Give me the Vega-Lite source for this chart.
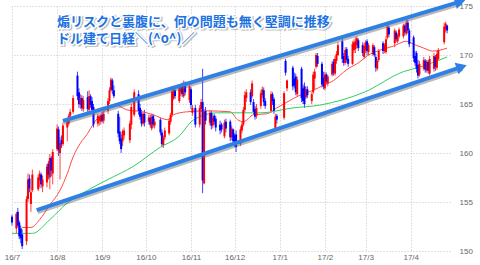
{
  "$schema": "https://vega.github.io/schema/vega-lite/v6.json",
  "width": 438,
  "height": 245,
  "autosize": {"type": "none"},
  "padding": {"left": 12, "top": 6, "right": 30, "bottom": 14},
  "background": "white",
  "config": {
    "view": {"stroke": null},
    "font": "Liberation Sans",
    "axis": {"grid": true, "gridColor": "#c4c4c4", "gridDash": [1, 2], "gridWidth": 1, "domain": false, "ticks": false, "labelColor": "#666666", "labelFontSize": 8, "labelFont": "Liberation Sans"}
  },
  "datasets": {
    "candles": [
      {"d":"2016-07-01","o":153.5,"h":153.7,"l":152.6,"c":152.9},
      {"d":"2016-07-04","o":152.3,"h":154.0,"l":151.8,"c":153.8},
      {"d":"2016-07-05","o":154.0,"h":154.4,"l":152.4,"c":152.6},
      {"d":"2016-07-06","o":152.9,"h":153.1,"l":151.2,"c":151.5},
      {"d":"2016-07-07","o":152.3,"h":152.6,"l":150.8,"c":151.3},
      {"d":"2016-07-08","o":151.7,"h":152.2,"l":150.2,"c":150.5},
      {"d":"2016-07-11","o":151.0,"h":155.6,"l":150.6,"c":155.3},
      {"d":"2016-07-12","o":155.3,"h":157.9,"l":155.0,"c":157.3},
      {"d":"2016-07-13","o":157.4,"h":157.8,"l":156.0,"c":156.4},
      {"d":"2016-07-14","o":154.8,"h":156.4,"l":154.0,"c":156.0},
      {"d":"2016-07-15","o":156.2,"h":158.3,"l":156.0,"c":157.8},
      {"d":"2016-07-19","o":156.3,"h":157.8,"l":156.1,"c":157.5},
      {"d":"2016-07-20","o":157.2,"h":158.2,"l":156.5,"c":157.9},
      {"d":"2016-07-21","o":157.8,"h":158.0,"l":156.4,"c":156.8},
      {"d":"2016-07-22","o":156.6,"h":157.7,"l":156.0,"c":157.3},
      {"d":"2016-07-25","o":157.0,"h":158.9,"l":156.5,"c":158.6},
      {"d":"2016-07-26","o":158.9,"h":159.2,"l":157.3,"c":157.8},
      {"d":"2016-07-27","o":157.5,"h":159.9,"l":156.3,"c":159.5},
      {"d":"2016-07-28","o":159.5,"h":159.7,"l":157.6,"c":158.2},
      {"d":"2016-07-29","o":157.9,"h":160.4,"l":156.8,"c":160.1},
      {"d":"2016-08-01","o":160.4,"h":162.9,"l":160.2,"c":162.5},
      {"d":"2016-08-02","o":162.4,"h":162.7,"l":159.7,"c":160.3},
      {"d":"2016-08-03","o":160.0,"h":161.6,"l":157.3,"c":161.0},
      {"d":"2016-08-04","o":161.3,"h":161.8,"l":160.5,"c":160.9},
      {"d":"2016-08-05","o":160.9,"h":163.1,"l":160.7,"c":162.8},
      {"d":"2016-08-08","o":162.6,"h":163.4,"l":161.2,"c":163.2},
      {"d":"2016-08-09","o":163.0,"h":164.0,"l":162.8,"c":163.8},
      {"d":"2016-08-10","o":163.8,"h":164.5,"l":163.4,"c":164.2},
      {"d":"2016-08-12","o":164.2,"h":165.9,"l":164.0,"c":165.6},
      {"d":"2016-08-15","o":167.9,"h":168.3,"l":165.4,"c":165.8},
      {"d":"2016-08-16","o":166.2,"h":166.6,"l":164.6,"c":165.0},
      {"d":"2016-08-17","o":164.9,"h":166.0,"l":164.5,"c":165.6},
      {"d":"2016-08-18","o":165.6,"h":165.9,"l":164.3,"c":164.6},
      {"d":"2016-08-19","o":164.5,"h":165.8,"l":164.2,"c":165.4},
      {"d":"2016-08-22","o":165.7,"h":166.3,"l":164.2,"c":164.5},
      {"d":"2016-08-23","o":164.4,"h":166.4,"l":164.2,"c":165.8},
      {"d":"2016-08-24","o":165.8,"h":166.0,"l":164.6,"c":164.9},
      {"d":"2016-08-25","o":165.3,"h":165.7,"l":164.0,"c":164.4},
      {"d":"2016-08-26","o":164.7,"h":165.0,"l":162.6,"c":162.9},
      {"d":"2016-08-29","o":163.0,"h":164.0,"l":162.7,"c":163.8},
      {"d":"2016-08-30","o":163.3,"h":163.9,"l":162.8,"c":163.7},
      {"d":"2016-08-31","o":163.2,"h":164.0,"l":162.9,"c":163.8},
      {"d":"2016-09-01","o":163.9,"h":164.2,"l":163.1,"c":163.3},
      {"d":"2016-09-02","o":163.3,"h":164.3,"l":163.0,"c":164.0},
      {"d":"2016-09-05","o":164.3,"h":165.6,"l":164.0,"c":165.3},
      {"d":"2016-09-06","o":165.3,"h":166.7,"l":165.0,"c":166.4},
      {"d":"2016-09-07","o":166.4,"h":167.7,"l":166.2,"c":167.5},
      {"d":"2016-09-08","o":167.4,"h":167.6,"l":166.0,"c":166.4},
      {"d":"2016-09-09","o":166.4,"h":166.9,"l":165.6,"c":165.8},
      {"d":"2016-09-12","o":164.0,"h":164.3,"l":161.6,"c":162.0},
      {"d":"2016-09-13","o":162.2,"h":163.7,"l":160.9,"c":161.2},
      {"d":"2016-09-14","o":161.5,"h":161.9,"l":160.0,"c":160.4},
      {"d":"2016-09-15","o":161.2,"h":162.4,"l":160.7,"c":162.2},
      {"d":"2016-09-16","o":161.8,"h":162.6,"l":161.4,"c":162.3},
      {"d":"2016-09-20","o":161.3,"h":163.3,"l":161.0,"c":163.0},
      {"d":"2016-09-21","o":162.9,"h":165.0,"l":162.4,"c":164.7},
      {"d":"2016-09-23","o":163.9,"h":166.5,"l":163.7,"c":166.2},
      {"d":"2016-09-26","o":166.0,"h":166.4,"l":163.9,"c":164.3},
      {"d":"2016-09-27","o":164.6,"h":165.0,"l":163.4,"c":163.7},
      {"d":"2016-09-28","o":164.0,"h":164.4,"l":162.7,"c":163.0},
      {"d":"2016-09-29","o":163.0,"h":164.2,"l":162.8,"c":164.0},
      {"d":"2016-09-30","o":164.0,"h":164.4,"l":162.7,"c":163.1},
      {"d":"2016-10-03","o":163.2,"h":163.9,"l":162.9,"c":163.6},
      {"d":"2016-10-04","o":163.6,"h":163.9,"l":162.6,"c":162.9},
      {"d":"2016-10-05","o":162.5,"h":164.0,"l":162.3,"c":163.7},
      {"d":"2016-10-06","o":163.8,"h":164.0,"l":162.6,"c":162.9},
      {"d":"2016-10-07","o":162.8,"h":163.5,"l":162.5,"c":163.2},
      {"d":"2016-10-11","o":163.4,"h":163.6,"l":161.8,"c":162.1},
      {"d":"2016-10-12","o":162.1,"h":162.4,"l":160.6,"c":160.9},
      {"d":"2016-10-13","o":160.8,"h":161.8,"l":160.5,"c":161.6},
      {"d":"2016-10-14","o":161.6,"h":162.6,"l":161.3,"c":162.3},
      {"d":"2016-10-17","o":162.0,"h":163.5,"l":161.8,"c":163.3},
      {"d":"2016-10-18","o":163.2,"h":164.1,"l":162.9,"c":163.9},
      {"d":"2016-10-19","o":163.9,"h":166.8,"l":163.7,"c":166.3},
      {"d":"2016-10-20","o":165.6,"h":166.7,"l":165.4,"c":166.4},
      {"d":"2016-10-21","o":166.4,"h":166.6,"l":165.5,"c":165.8},
      {"d":"2016-10-24","o":165.3,"h":167.0,"l":165.1,"c":166.7},
      {"d":"2016-10-25","o":166.2,"h":167.0,"l":165.8,"c":166.8},
      {"d":"2016-10-26","o":166.8,"h":167.2,"l":165.7,"c":166.0},
      {"d":"2016-10-27","o":165.8,"h":167.4,"l":165.6,"c":167.1},
      {"d":"2016-10-28","o":167.0,"h":167.3,"l":165.9,"c":166.2},
      {"d":"2016-10-31","o":165.4,"h":167.1,"l":165.1,"c":166.8},
      {"d":"2016-11-01","o":166.5,"h":166.7,"l":164.5,"c":164.9},
      {"d":"2016-11-02","o":164.1,"h":164.9,"l":163.8,"c":164.6},
      {"d":"2016-11-04","o":164.6,"h":164.9,"l":162.6,"c":162.9},
      {"d":"2016-11-07","o":162.9,"h":164.9,"l":162.6,"c":164.6},
      {"d":"2016-11-08","o":164.5,"h":165.5,"l":164.2,"c":165.2},
      {"d":"2016-11-09","o":165.2,"h":168.6,"l":155.9,"c":157.2},
      {"d":"2016-11-10","o":156.9,"h":164.5,"l":156.8,"c":164.2},
      {"d":"2016-11-11","o":164.3,"h":164.7,"l":162.9,"c":163.3},
      {"d":"2016-11-14","o":163.1,"h":164.4,"l":162.8,"c":164.1},
      {"d":"2016-11-15","o":164.1,"h":164.3,"l":162.4,"c":162.8},
      {"d":"2016-11-16","o":162.8,"h":163.9,"l":162.5,"c":163.6},
      {"d":"2016-11-17","o":163.8,"h":164.0,"l":162.9,"c":163.2},
      {"d":"2016-11-18","o":163.5,"h":163.8,"l":162.2,"c":162.6},
      {"d":"2016-11-21","o":162.9,"h":163.3,"l":161.9,"c":162.3},
      {"d":"2016-11-22","o":162.9,"h":163.1,"l":162.1,"c":162.4},
      {"d":"2016-11-24","o":161.7,"h":163.4,"l":161.5,"c":163.1},
      {"d":"2016-11-25","o":163.2,"h":163.5,"l":162.1,"c":162.5},
      {"d":"2016-11-28","o":163.2,"h":163.4,"l":161.2,"c":161.6},
      {"d":"2016-11-29","o":161.6,"h":162.8,"l":161.3,"c":162.5},
      {"d":"2016-11-30","o":162.4,"h":162.5,"l":160.9,"c":161.2},
      {"d":"2016-12-01","o":161.8,"h":162.0,"l":160.6,"c":160.9},
      {"d":"2016-12-02","o":161.9,"h":162.3,"l":160.1,"c":160.6},
      {"d":"2016-12-05","o":160.9,"h":162.7,"l":160.7,"c":162.4},
      {"d":"2016-12-06","o":162.3,"h":163.2,"l":162.0,"c":162.9},
      {"d":"2016-12-07","o":162.9,"h":164.7,"l":162.7,"c":164.4},
      {"d":"2016-12-08","o":164.4,"h":166.3,"l":164.2,"c":165.9},
      {"d":"2016-12-09","o":165.6,"h":166.5,"l":165.2,"c":166.2},
      {"d":"2016-12-12","o":166.2,"h":166.5,"l":164.9,"c":165.2},
      {"d":"2016-12-13","o":165.8,"h":167.4,"l":165.6,"c":167.1},
      {"d":"2016-12-14","o":165.2,"h":165.5,"l":163.9,"c":164.2},
      {"d":"2016-12-15","o":164.5,"h":164.8,"l":163.4,"c":163.7},
      {"d":"2016-12-16","o":163.8,"h":165.0,"l":163.5,"c":164.6},
      {"d":"2016-12-19","o":164.8,"h":166.4,"l":164.5,"c":166.1},
      {"d":"2016-12-20","o":165.9,"h":166.8,"l":165.6,"c":166.5},
      {"d":"2016-12-21","o":166.4,"h":166.7,"l":164.8,"c":165.2},
      {"d":"2016-12-22","o":165.3,"h":165.6,"l":164.5,"c":164.8},
      {"d":"2016-12-26","o":164.3,"h":166.3,"l":164.1,"c":166.0},
      {"d":"2016-12-27","o":166.0,"h":166.2,"l":164.9,"c":165.3},
      {"d":"2016-12-28","o":165.5,"h":165.7,"l":164.0,"c":164.3},
      {"d":"2016-12-29","o":162.4,"h":164.0,"l":162.2,"c":163.7},
      {"d":"2016-12-30","o":163.8,"h":164.0,"l":163.0,"c":163.4},
      {"d":"2017-01-04","o":163.6,"h":166.3,"l":163.4,"c":166.1},
      {"d":"2017-01-05","o":169.4,"h":169.6,"l":167.9,"c":168.2},
      {"d":"2017-01-06","o":166.6,"h":167.5,"l":166.3,"c":167.4},
      {"d":"2017-01-10","o":168.7,"h":168.9,"l":166.4,"c":166.8},
      {"d":"2017-01-11","o":167.6,"h":168.2,"l":166.6,"c":166.9},
      {"d":"2017-01-12","o":167.8,"h":168.1,"l":165.9,"c":166.2},
      {"d":"2017-01-13","o":166.0,"h":167.8,"l":165.8,"c":167.5},
      {"d":"2017-01-16","o":168.6,"h":168.8,"l":165.2,"c":165.6},
      {"d":"2017-01-17","o":166.6,"h":167.0,"l":165.0,"c":165.3},
      {"d":"2017-01-18","o":166.8,"h":167.2,"l":164.6,"c":165.0},
      {"d":"2017-01-19","o":165.7,"h":166.8,"l":165.5,"c":166.5},
      {"d":"2017-01-20","o":166.5,"h":166.8,"l":165.6,"c":165.9},
      {"d":"2017-01-23","o":165.3,"h":166.2,"l":165.0,"c":166.0},
      {"d":"2017-01-24","o":166.2,"h":168.3,"l":166.0,"c":168.0},
      {"d":"2017-01-25","o":167.6,"h":168.6,"l":166.5,"c":168.3},
      {"d":"2017-01-26","o":168.8,"h":170.2,"l":168.6,"c":170.0},
      {"d":"2017-01-27","o":169.9,"h":170.2,"l":168.8,"c":169.1},
      {"d":"2017-01-30","o":169.1,"h":169.3,"l":166.7,"c":167.0},
      {"d":"2017-01-31","o":167.7,"h":168.3,"l":166.5,"c":166.8},
      {"d":"2017-02-01","o":166.6,"h":168.3,"l":166.4,"c":168.0},
      {"d":"2017-02-02","o":168.0,"h":168.2,"l":167.0,"c":167.3},
      {"d":"2017-02-03","o":167.1,"h":168.0,"l":166.8,"c":167.8},
      {"d":"2017-02-06","o":168.0,"h":169.4,"l":167.8,"c":169.1},
      {"d":"2017-02-07","o":169.3,"h":169.6,"l":167.9,"c":168.2},
      {"d":"2017-02-08","o":168.1,"h":169.9,"l":167.9,"c":169.6},
      {"d":"2017-02-09","o":169.4,"h":170.4,"l":169.1,"c":170.1},
      {"d":"2017-02-10","o":170.0,"h":171.3,"l":169.9,"c":171.0},
      {"d":"2017-02-13","o":171.4,"h":171.7,"l":169.2,"c":169.6},
      {"d":"2017-02-14","o":169.9,"h":170.2,"l":168.9,"c":169.2},
      {"d":"2017-02-15","o":169.2,"h":170.8,"l":169.0,"c":170.5},
      {"d":"2017-02-16","o":170.6,"h":170.8,"l":169.2,"c":169.5},
      {"d":"2017-02-17","o":169.6,"h":169.9,"l":168.8,"c":169.1},
      {"d":"2017-02-20","o":169.1,"h":171.4,"l":169.0,"c":171.1},
      {"d":"2017-02-21","o":170.5,"h":171.6,"l":170.2,"c":171.3},
      {"d":"2017-02-22","o":170.6,"h":171.8,"l":170.2,"c":171.4},
      {"d":"2017-02-23","o":171.0,"h":171.9,"l":170.7,"c":171.7},
      {"d":"2017-02-24","o":171.5,"h":171.7,"l":170.4,"c":170.7},
      {"d":"2017-02-27","o":171.0,"h":171.3,"l":169.9,"c":170.2},
      {"d":"2017-02-28","o":169.8,"h":171.2,"l":169.6,"c":170.9},
      {"d":"2017-03-01","o":170.5,"h":171.5,"l":170.2,"c":171.3},
      {"d":"2017-03-02","o":171.4,"h":171.6,"l":170.0,"c":170.4},
      {"d":"2017-03-03","o":170.3,"h":171.2,"l":170.0,"c":171.0},
      {"d":"2017-03-06","o":170.1,"h":171.2,"l":169.9,"c":171.0},
      {"d":"2017-03-07","o":170.8,"h":171.0,"l":169.8,"c":170.0},
      {"d":"2017-03-08","o":169.8,"h":170.1,"l":168.3,"c":168.7},
      {"d":"2017-03-09","o":168.6,"h":169.6,"l":168.4,"c":169.4},
      {"d":"2017-03-10","o":169.5,"h":170.6,"l":169.3,"c":170.4},
      {"d":"2017-03-13","o":171.2,"h":171.4,"l":170.1,"c":170.4},
      {"d":"2017-03-14","o":170.4,"h":171.2,"l":170.2,"c":171.0},
      {"d":"2017-03-15","o":170.3,"h":171.9,"l":170.1,"c":171.6},
      {"d":"2017-03-16","o":171.8,"h":173.1,"l":171.6,"c":172.9},
      {"d":"2017-03-17","o":172.8,"h":173.0,"l":171.8,"c":172.1},
      {"d":"2017-03-21","o":171.2,"h":172.7,"l":170.8,"c":172.5},
      {"d":"2017-03-22","o":172.3,"h":172.5,"l":171.3,"c":171.6},
      {"d":"2017-03-23","o":171.4,"h":172.2,"l":171.2,"c":172.0},
      {"d":"2017-03-24","o":171.9,"h":172.8,"l":171.7,"c":172.6},
      {"d":"2017-03-27","o":171.9,"h":173.2,"l":171.7,"c":173.0},
      {"d":"2017-03-28","o":173.0,"h":173.2,"l":172.0,"c":172.3},
      {"d":"2017-03-29","o":172.2,"h":173.6,"l":172.0,"c":173.3},
      {"d":"2017-03-30","o":173.3,"h":173.6,"l":172.2,"c":172.5},
      {"d":"2017-03-31","o":172.5,"h":172.7,"l":170.8,"c":171.1},
      {"d":"2017-04-03","o":171.8,"h":172.0,"l":169.3,"c":169.7},
      {"d":"2017-04-04","o":169.9,"h":170.4,"l":168.9,"c":169.2},
      {"d":"2017-04-05","o":170.2,"h":170.4,"l":168.2,"c":168.6},
      {"d":"2017-04-06","o":169.0,"h":169.5,"l":167.6,"c":167.9},
      {"d":"2017-04-07","o":168.0,"h":169.4,"l":167.8,"c":169.1},
      {"d":"2017-04-10","o":168.6,"h":169.8,"l":168.4,"c":169.5},
      {"d":"2017-04-11","o":169.4,"h":169.6,"l":168.2,"c":168.5},
      {"d":"2017-04-12","o":168.4,"h":169.5,"l":168.2,"c":169.3},
      {"d":"2017-04-13","o":169.3,"h":169.5,"l":168.1,"c":168.4},
      {"d":"2017-04-14","o":168.1,"h":169.9,"l":167.9,"c":169.6},
      {"d":"2017-04-17","o":168.6,"h":170.2,"l":168.3,"c":169.9},
      {"d":"2017-04-18","o":169.8,"h":170.0,"l":168.4,"c":168.8},
      {"d":"2017-04-19","o":168.7,"h":170.4,"l":168.5,"c":170.1},
      {"d":"2017-04-20","o":169.6,"h":170.7,"l":169.4,"c":170.5},
      {"d":"2017-04-24","o":171.3,"h":173.3,"l":171.1,"c":172.9},
      {"d":"2017-04-25","o":172.6,"h":173.4,"l":172.3,"c":173.2},
      {"d":"2017-04-26","o":173.0,"h":173.1,"l":172.2,"c":172.5}
    ],
    "ma": [
      {"s":"r","d":"2016-07-08","v":152.4},
      {"s":"r","d":"2016-07-14","v":152.4},
      {"s":"r","d":"2016-07-20","v":153.2},
      {"s":"r","d":"2016-07-27","v":154.7},
      {"s":"r","d":"2016-08-03","v":156.2},
      {"s":"r","d":"2016-08-08","v":157.9},
      {"s":"r","d":"2016-08-12","v":159.6},
      {"s":"r","d":"2016-08-17","v":161.0},
      {"s":"r","d":"2016-08-22","v":162.0},
      {"s":"r","d":"2016-08-26","v":163.0},
      {"s":"r","d":"2016-08-31","v":163.9},
      {"s":"r","d":"2016-09-05","v":164.6},
      {"s":"r","d":"2016-09-10","v":164.9},
      {"s":"r","d":"2016-09-18","v":164.4},
      {"s":"r","d":"2016-09-29","v":164.2},
      {"s":"r","d":"2016-10-06","v":163.9},
      {"s":"r","d":"2016-10-16","v":163.4},
      {"s":"r","d":"2016-10-20","v":163.9},
      {"s":"r","d":"2016-10-29","v":164.2},
      {"s":"r","d":"2016-11-12","v":164.3},
      {"s":"r","d":"2016-11-28","v":164.2},
      {"s":"r","d":"2016-12-03","v":163.4},
      {"s":"r","d":"2016-12-07","v":163.2},
      {"s":"r","d":"2016-12-14","v":163.9},
      {"s":"r","d":"2016-12-23","v":164.0},
      {"s":"r","d":"2016-12-30","v":164.6},
      {"s":"r","d":"2017-01-06","v":165.2},
      {"s":"r","d":"2017-01-15","v":165.9},
      {"s":"r","d":"2017-01-24","v":166.4},
      {"s":"r","d":"2017-01-31","v":166.9},
      {"s":"r","d":"2017-02-07","v":167.4},
      {"s":"r","d":"2017-02-16","v":168.5},
      {"s":"r","d":"2017-02-25","v":169.3},
      {"s":"r","d":"2017-03-02","v":169.9},
      {"s":"r","d":"2017-03-11","v":170.5},
      {"s":"r","d":"2017-03-20","v":170.9},
      {"s":"r","d":"2017-03-29","v":171.4},
      {"s":"r","d":"2017-04-03","v":171.1},
      {"s":"r","d":"2017-04-10","v":170.7},
      {"s":"r","d":"2017-04-16","v":170.4},
      {"s":"r","d":"2017-04-26","v":170.7},
      {"s":"g","d":"2016-07-01","v":151.8},
      {"s":"g","d":"2016-07-15","v":151.8},
      {"s":"g","d":"2016-07-27","v":153.2},
      {"s":"g","d":"2016-08-08","v":154.9},
      {"s":"g","d":"2016-08-22","v":156.2},
      {"s":"g","d":"2016-09-05","v":157.3},
      {"s":"g","d":"2016-09-22","v":158.6},
      {"s":"g","d":"2016-10-11","v":160.6},
      {"s":"g","d":"2016-10-23","v":161.6},
      {"s":"g","d":"2016-11-03","v":163.4},
      {"s":"g","d":"2016-11-19","v":164.1},
      {"s":"g","d":"2016-12-19","v":164.1},
      {"s":"g","d":"2017-01-10","v":164.6},
      {"s":"g","d":"2017-01-29","v":164.9},
      {"s":"g","d":"2017-02-28","v":166.2},
      {"s":"g","d":"2017-03-27","v":168.3},
      {"s":"g","d":"2017-04-08","v":168.8},
      {"s":"g","d":"2017-04-26","v":169.8}
    ],
    "arrows": [
      {"a":"upper","d":"2016-08-05","v":163.27},
      {"a":"upper","d":"2017-05-05","v":175.44},
      {"a":"lower","d":"2016-07-18","v":154.18},
      {"a":"lower","d":"2017-05-06","v":168.79}
    ],
    "heads": [
      {"a":"upper","d":"2017-05-05","v":175.44},
      {"a":"lower","d":"2017-05-06","v":168.79}
    ],
    "notes": [
      {"d":"2016-08-01","v":173.4,"t":"煽リスクと裏腹に、何の問題も無く堅調に推移"},
      {"d":"2016-08-01","v":171.65,"t":"ドル建て日経＼(^o^)／"}
    ]
  },
  "encoding": {
    "x": {
      "field": "d", "type": "temporal", "title": null,
      "scale": {"type": "utc", "domain": [{"year": 2016, "month": 7, "date": 1, "utc": true}, {"year": 2017, "month": 4, "date": 28, "utc": true}]},
      "axis": {"format": "%y/%-m", "tickCount": {"interval": "month", "step": 1}, "labelFlush": false, "labelOverlap": false, "labelPadding": 2}
    }
  },
  "layer": [
    {
      "data": {"name": "candles"},
      "mark": {"type": "rule", "strokeWidth": 1, "opacity": 0.75},
      "encoding": {
        "y": {"field": "l", "type": "quantitative", "title": null, "scale": {"domain": [150, 175], "nice": false, "zero": false}, "axis": {"orient": "right", "values": [150, 155, 160, 165, 170, 175], "labelPadding": 9}},
        "y2": {"field": "h"},
        "color": {"condition": {"test": "datum.c < datum.o", "value": "#0000ff"}, "value": "#ff0000"}
      }
    },
    {
      "data": {"name": "ma"},
      "mark": {"type": "line", "strokeWidth": 1, "interpolate": "monotone"},
      "encoding": {
        "y": {"field": "v", "type": "quantitative", "title": null, "scale": {"domain": [150, 175], "nice": false, "zero": false}, "axis": {"orient": "right", "values": [150, 155, 160, 165, 170, 175], "labelPadding": 9}},
        "color": {"field": "s", "type": "nominal", "scale": {"domain": ["r", "g"], "range": ["#ff4a4a", "#33cc66"]}, "legend": null}
      }
    },
    {
      "data": {"name": "candles"},
      "mark": {"type": "rule", "strokeWidth": 2},
      "encoding": {
        "y": {"field": "o", "type": "quantitative", "title": null, "scale": {"domain": [150, 175], "nice": false, "zero": false}, "axis": {"orient": "right", "values": [150, 155, 160, 165, 170, 175], "labelPadding": 9}},
        "y2": {"field": "c"},
        "color": {"condition": {"test": "datum.c < datum.o", "value": "#0000ff"}, "value": "#ff0000"}
      }
    },
    {
      "data": {"name": "arrows"},
      "mark": {"type": "line", "strokeWidth": 4, "color": "#666666", "opacity": 0.45, "yOffset": 2, "xOffset": 1},
      "encoding": {
        "y": {"field": "v", "type": "quantitative", "title": null, "scale": {"domain": [150, 175], "nice": false, "zero": false}, "axis": {"orient": "right", "values": [150, 155, 160, 165, 170, 175], "labelPadding": 9}},
        "detail": {"field": "a"}
      }
    },
    {
      "data": {"name": "arrows"},
      "mark": {"type": "line", "strokeWidth": 4, "color": "#2f80e4"},
      "encoding": {
        "y": {"field": "v", "type": "quantitative", "title": null, "scale": {"domain": [150, 175], "nice": false, "zero": false}, "axis": {"orient": "right", "values": [150, 155, 160, 165, 170, 175], "labelPadding": 9}},
        "detail": {"field": "a"}
      }
    },
    {
      "data": {"name": "heads"},
      "transform": [{"filter": "datum.a == 'upper'"}],
      "mark": {"type": "point", "shape": "triangle-right", "filled": true, "size": 150, "opacity": 1, "color": "#2f80e4", "angle": -16.7},
      "encoding": {
        "y": {"field": "v", "type": "quantitative", "title": null, "scale": {"domain": [150, 175], "nice": false, "zero": false}, "axis": {"orient": "right", "values": [150, 155, 160, 165, 170, 175], "labelPadding": 9}}
      }
    },
    {
      "data": {"name": "heads"},
      "transform": [{"filter": "datum.a == 'lower'"}],
      "mark": {"type": "point", "shape": "triangle-right", "filled": true, "size": 150, "opacity": 1, "color": "#2f80e4", "angle": -18.6},
      "encoding": {
        "y": {"field": "v", "type": "quantitative", "title": null, "scale": {"domain": [150, 175], "nice": false, "zero": false}, "axis": {"orient": "right", "values": [150, 155, 160, 165, 170, 175], "labelPadding": 9}}
      }
    },
    {
      "data": {"name": "notes"},
      "mark": {"type": "text", "align": "left", "baseline": "middle", "font": "Noto Sans CJK JP", "fontSize": 13, "fontWeight": "bold", "fill": "#777777", "stroke": "#777777", "strokeWidth": 3, "opacity": 0.45, "dx": 1.5, "dy": 1.5},
      "encoding": {
        "y": {"field": "v", "type": "quantitative", "title": null, "scale": {"domain": [150, 175], "nice": false, "zero": false}, "axis": {"orient": "right", "values": [150, 155, 160, 165, 170, 175], "labelPadding": 9}},
        "text": {"field": "t"}
      }
    },
    {
      "data": {"name": "notes"},
      "mark": {"type": "text", "align": "left", "baseline": "middle", "font": "Noto Sans CJK JP", "fontSize": 13, "fontWeight": "bold", "fill": "white", "stroke": "white", "strokeWidth": 3},
      "encoding": {
        "y": {"field": "v", "type": "quantitative", "title": null, "scale": {"domain": [150, 175], "nice": false, "zero": false}, "axis": {"orient": "right", "values": [150, 155, 160, 165, 170, 175], "labelPadding": 9}},
        "text": {"field": "t"}
      }
    },
    {
      "data": {"name": "notes"},
      "mark": {"type": "text", "align": "left", "baseline": "middle", "font": "Noto Sans CJK JP", "fontSize": 13, "fontWeight": "bold", "fill": "#1c72e2"},
      "encoding": {
        "y": {"field": "v", "type": "quantitative", "title": null, "scale": {"domain": [150, 175], "nice": false, "zero": false}, "axis": {"orient": "right", "values": [150, 155, 160, 165, 170, 175], "labelPadding": 9}},
        "text": {"field": "t"}
      }
    }
  ]
}
